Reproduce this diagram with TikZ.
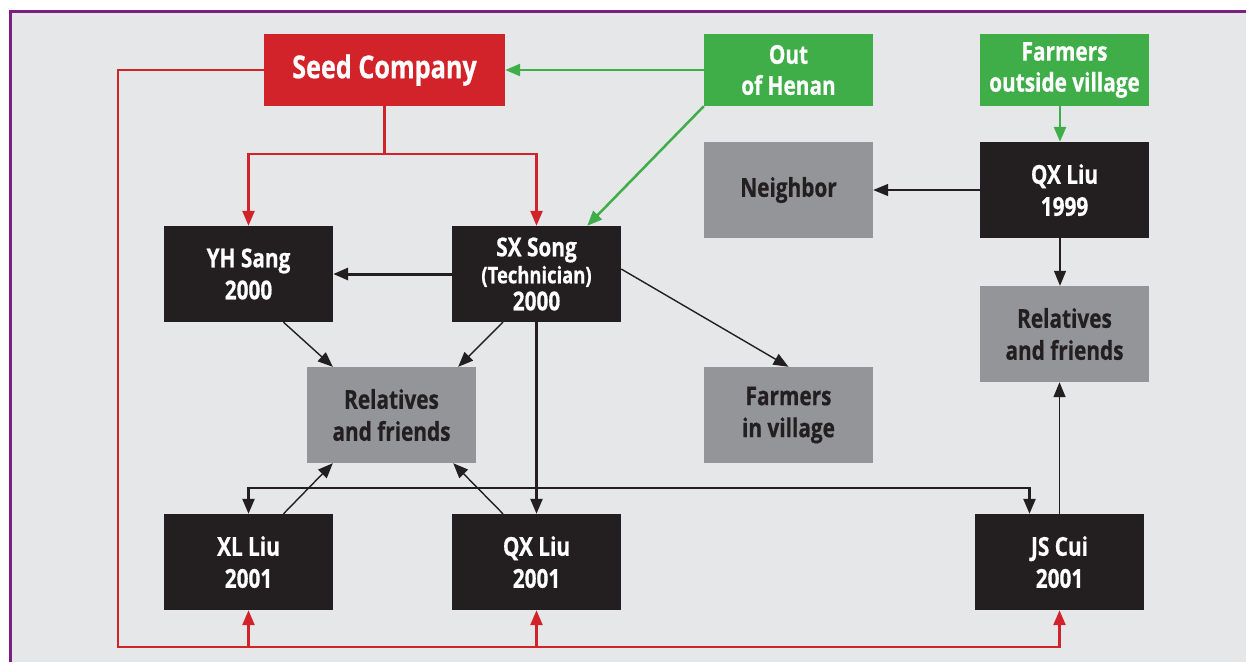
\documentclass[tikz,border=0pt]{standalone}
\usepackage{fontspec}
\setmainfont{Open Sans}[FakeStretch=0.8,BoldFeatures={FakeBold=0.6}]
\usetikzlibrary{arrows.meta}
\definecolor{bg}{HTML}{E6E7E8}
\definecolor{pur}{HTML}{7D1F80}
\definecolor{sred}{HTML}{D2232A}
\definecolor{sgreen}{HTML}{3FAE49}
\definecolor{sgray}{HTML}{939598}
\definecolor{sblack}{HTML}{231F20}
\begin{document}
\begin{tikzpicture}[x=1pt,y=-1pt,
  boxbase/.style={draw=none,inner sep=0pt,align=center,minimum width=169pt,minimum height=96pt,
    font=\bfseries\fontsize{26}{32}\selectfont},
  blackbox/.style={boxbase,fill=sblack,text=white},
  graybox/.style={boxbase,fill=sgray,text=sblack},
  greenbox/.style={boxbase,fill=sgreen,text=white,minimum height=72pt,
    font=\bfseries\fontsize{26}{31}\selectfont},
  redbox/.style={boxbase,fill=sred,text=white,minimum width=241pt,minimum height=72pt,
    font=\bfseries\fontsize{31.5}{36}\selectfont},
  tip/.style={-{Triangle[length=15pt,width=12pt]}},
  rline/.style={draw=sred,line width=2.5pt},
  gline/.style={draw=sgreen,line width=2.5pt},
  thinline/.style={draw=sblack,line width=1.4pt},
  medline/.style={draw=sblack,line width=2.4pt},
  thickline/.style={draw=sblack,line width=3pt},
]
\useasboundingbox (0,0) rectangle (1246,662);
\fill[white] (0,0) rectangle (1246,662);
\fill[bg] (10,11) rectangle (1246,662);
\draw[pur,line width=3pt] (10,662) -- (10,11) -- (1246,11);

% nodes
\node[redbox] (seed) at (384.5,70) {Seed Company};
\node[greenbox] (out) at (788.5,70) {Out\\of Henan};
\node[greenbox] (fo) at (1064.5,70) {Farmers\\outside village};
\node[graybox] (nb) at (788.5,190) {Neighbor};
\node[blackbox] (qx99) at (1064.5,190) {QX Liu\\1999};
\node[blackbox] (yh) at (248.5,274) {YH Sang\\2000};
\node[blackbox,font=\bfseries\fontsize{26}{27}\selectfont] (sx) at (536.5,274)
  {SX Song\\{\fontsize{23}{27}\selectfont(Technician)}\\2000};
\node[graybox] (relM) at (391.5,415) {Relatives\\and friends};
\node[graybox] (fv) at (788.5,415) {Farmers\\in village};
\node[graybox] (relR) at (1064.5,334) {Relatives\\and friends};
\node[blackbox] (xl) at (248.5,562) {XL Liu\\2001};
\node[blackbox] (qx01) at (536.5,562) {QX Liu\\2001};
\node[blackbox] (js) at (1059.5,562) {JS Cui\\2001};

% green connectors
\draw[gline,tip] (out.west) -- (seed.east);
\draw[gline,tip] (out.south west) -- ([xshift=-34pt]sx.north east);
\draw[gline,tip] ([xshift=-4.5pt]fo.south) -- ([xshift=-4.5pt]qx99.north);

% red connectors
\draw[rline] (seed.south) -- ++(0,48) coordinate (rj);
\draw[rline,tip] (rj) -| (yh.north);
\draw[rline,tip] (rj) -| (sx.north);
\coordinate (rb) at (118,647);
\draw[rline,tip] (seed.west) -| (rb) -| (js.south);
\draw[rline,tip] (rb -| xl.south) -- (xl.south);
\draw[rline,tip] (rb -| qx01.south) -- (qx01.south);

% black connectors
\draw[thickline,tip] (sx.west) -- (yh.east);
\draw[thinline,tip] (qx99.west) -- (nb.east);
\draw[thinline,tip] ([xshift=-4.5pt]qx99.south) -- ([xshift=-4.5pt]relR.north);
\draw[thinline,tip] (js.north) -- (js.north |- relR.south);
\draw[thinline,tip] ([yshift=5pt]sx.east) -- (fv.north);
\draw[thinline,tip] ([xshift=35pt]yh.south) -- ([xshift=26pt]relM.north west);
\draw[thinline,tip] ([xshift=-33.5pt]sx.south) -- ([xshift=-18pt]relM.north east);
\draw[thinline,tip] ([xshift=35pt]xl.north) -- ([xshift=26pt]relM.south west);
\draw[thinline,tip] ([xshift=-33.5pt]qx01.north) -- ([xshift=-23pt]relM.south east);
\draw[medline,tip] (sx.south) -- (qx01.north);
\path (sx.south) ++(0,166) coordinate (hj);
\draw[medline,tip] (hj) -| (xl.north);
\draw[medline,tip] (hj) -| ([xshift=-30pt]js.north);
\end{tikzpicture}
\end{document}
